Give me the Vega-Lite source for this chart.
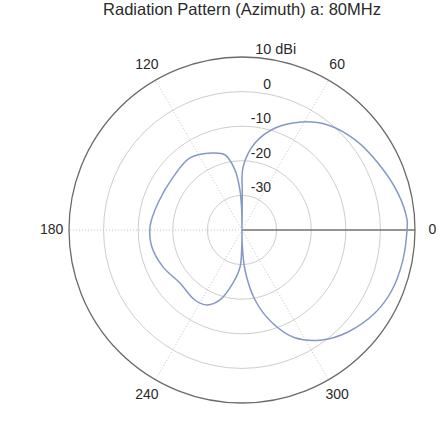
{
  "$schema": "https://vega.github.io/schema/vega-lite/v6.json",
  "width": 346,
  "height": 346,
  "autosize": {"type": "none"},
  "padding": {"left": 69, "top": 57, "right": 31, "bottom": 27},
  "background": "white",
  "config": {"view": {"stroke": null}, "font": "Liberation Sans"},
  "title": {
    "text": "Radiation Pattern (Azimuth) a: 80MHz",
    "fontSize": 16.5,
    "fontWeight": "normal",
    "color": "#2a2a2a",
    "anchor": "middle",
    "offset": 24
  },
  "datasets": {
    "pattern": [
      {"a": -90, "g": -40}, {"a": -89, "g": -36}, {"a": -85.7, "g": -28.4},
      {"a": -79.5, "g": -19.5}, {"a": -72, "g": -11.8}, {"a": -63.9, "g": -5.3},
      {"a": -54, "g": -0.7}, {"a": -43.9, "g": 2.5}, {"a": -32, "g": 5.3},
      {"a": -21.8, "g": 6.7}, {"a": -10.6, "g": 7.3}, {"a": 0, "g": 7.7},
      {"a": 3.5, "g": 7.8}, {"a": 13.3, "g": 6.3}, {"a": 26.2, "g": 3.8},
      {"a": 38.5, "g": 1.8}, {"a": 50.7, "g": -0.8}, {"a": 61, "g": -4.3},
      {"a": 72, "g": -9}, {"a": 81.5, "g": -14.6}, {"a": 89, "g": -21.8},
      {"a": 89.5, "g": -30}, {"a": 90, "g": -40},
      {"a": 91, "g": -34}, {"a": 93, "g": -28.4}, {"a": 96.7, "g": -22.5},
      {"a": 102.8, "g": -17.7}, {"a": 111.3, "g": -16.1}, {"a": 125.8, "g": -14.3},
      {"a": 142.5, "g": -14.9}, {"a": 162.2, "g": -14.5}, {"a": 178, "g": -13.4},
      {"a": 190.7, "g": -13.5}, {"a": 205, "g": -14.8}, {"a": 220.5, "g": -16.4},
      {"a": 236, "g": -15.6}, {"a": 245, "g": -16.1}, {"a": 252.5, "g": -18.8},
      {"a": 260.4, "g": -24.5}, {"a": 267, "g": -29.3}, {"a": 269, "g": -34.2},
      {"a": 270, "g": -40}
    ],
    "rings": [
      {"g": -30, "lab": "-30"}, {"g": -20, "lab": "-20"}, {"g": -10, "lab": "-10"},
      {"g": 0, "lab": "0"}, {"g": 10, "lab": "10 dBi"}
    ],
    "angles": [
      {"a": 0, "lab": "0"}, {"a": 60, "lab": "60"}, {"a": 120, "lab": "120"},
      {"a": 180, "lab": "180"}, {"a": 240, "lab": "240"}, {"a": 300, "lab": "300"}
    ]
  },
  "layer": [
    {
      "data": {"name": "rings"},
      "transform": [{"calculate": "datum.g + 40", "as": "rr"}],
      "mark": {"type": "arc", "theta": 0, "theta2": 6.2832, "fillOpacity": 0, "fill": "white", "strokeWidth": 1},
      "encoding": {
        "radius": {"field": "rr", "type": "quantitative", "stack": null, "scale": {"type": "linear", "domain": [0, 50], "range": [0, 173]}},
        "stroke": {
          "condition": {"test": "datum.g == 10", "value": "#6a6a6a"},
          "value": "#cdcdcd"
        },
        "strokeWidth": {
          "condition": {"test": "datum.g == 10", "value": 1.3},
          "value": 1
        },
        "strokeDash": {
          "condition": {"test": "datum.g == 10", "value": [1, 0]},
          "value": [2, 2]
        }
      }
    },
    {
      "data": {"name": "angles"},
      "transform": [
        {"calculate": "0", "as": "z"},
        {"calculate": "50 * cos(datum.a * PI / 180)", "as": "sx"},
        {"calculate": "50 * sin(datum.a * PI / 180)", "as": "sy"}
      ],
      "mark": {"type": "rule", "color": "#c4c4c4", "strokeWidth": 1, "strokeDash": [1, 2]},
      "encoding": {
        "x": {"field": "z", "type": "quantitative", "scale": {"domain": [-50, 50], "nice": false, "zero": false}, "axis": null},
        "y": {"field": "z", "type": "quantitative", "scale": {"domain": [-50, 50], "nice": false, "zero": false}, "axis": null},
        "x2": {"field": "sx"},
        "y2": {"field": "sy"}
      }
    },
    {
      "data": {"name": "angles"},
      "transform": [
        {"filter": "datum.a == 0"},
        {"calculate": "0", "as": "z"},
        {"calculate": "50", "as": "sx"}
      ],
      "mark": {"type": "rule", "color": "#747474", "strokeWidth": 1.4},
      "encoding": {
        "x": {"field": "z", "type": "quantitative"},
        "x2": {"field": "sx"},
        "y": {"field": "z", "type": "quantitative"}
      }
    },
    {
      "data": {"name": "pattern"},
      "transform": [
        {"window": [{"op": "row_number", "as": "i"}]},
        {"calculate": "(datum.g + 40) * cos(datum.a * PI / 180)", "as": "x"},
        {"calculate": "(datum.g + 40) * sin(datum.a * PI / 180)", "as": "y"}
      ],
      "mark": {"type": "line", "color": "#8499c6", "strokeWidth": 1.5, "interpolate": "catmull-rom"},
      "encoding": {
        "x": {"field": "x", "type": "quantitative"},
        "y": {"field": "y", "type": "quantitative"},
        "order": {"field": "i", "type": "quantitative"}
      }
    },
    {
      "data": {"name": "rings"},
      "transform": [
        {"filter": "datum.g < 10"},
        {"calculate": "8.4", "as": "lx"},
        {"calculate": "datum.g + 40", "as": "ry"}
      ],
      "mark": {"type": "text", "align": "right", "baseline": "bottom", "fontSize": 14, "color": "#2a2a2a"},
      "encoding": {
        "x": {"field": "lx", "type": "quantitative"},
        "y": {"field": "ry", "type": "quantitative"},
        "text": {"field": "lab"}
      }
    },
    {
      "data": {"name": "rings"},
      "transform": [
        {"filter": "datum.g == 10"},
        {"calculate": "3.8", "as": "lx"},
        {"calculate": "datum.g + 40", "as": "ry"}
      ],
      "mark": {"type": "text", "align": "left", "baseline": "bottom", "fontSize": 14.5, "color": "#2a2a2a"},
      "encoding": {
        "x": {"field": "lx", "type": "quantitative"},
        "y": {"field": "ry", "type": "quantitative"},
        "text": {"field": "lab"}
      }
    },
    {
      "data": {"name": "angles"},
      "transform": [
        {"calculate": "55 * cos(datum.a * PI / 180)", "as": "lx"},
        {"calculate": "55 * sin(datum.a * PI / 180)", "as": "ly"}
      ],
      "mark": {"type": "text", "align": "center", "baseline": "middle", "fontSize": 14, "color": "#2a2a2a"},
      "encoding": {
        "x": {"field": "lx", "type": "quantitative"},
        "y": {"field": "ly", "type": "quantitative"},
        "text": {"field": "lab"}
      }
    }
  ]
}
